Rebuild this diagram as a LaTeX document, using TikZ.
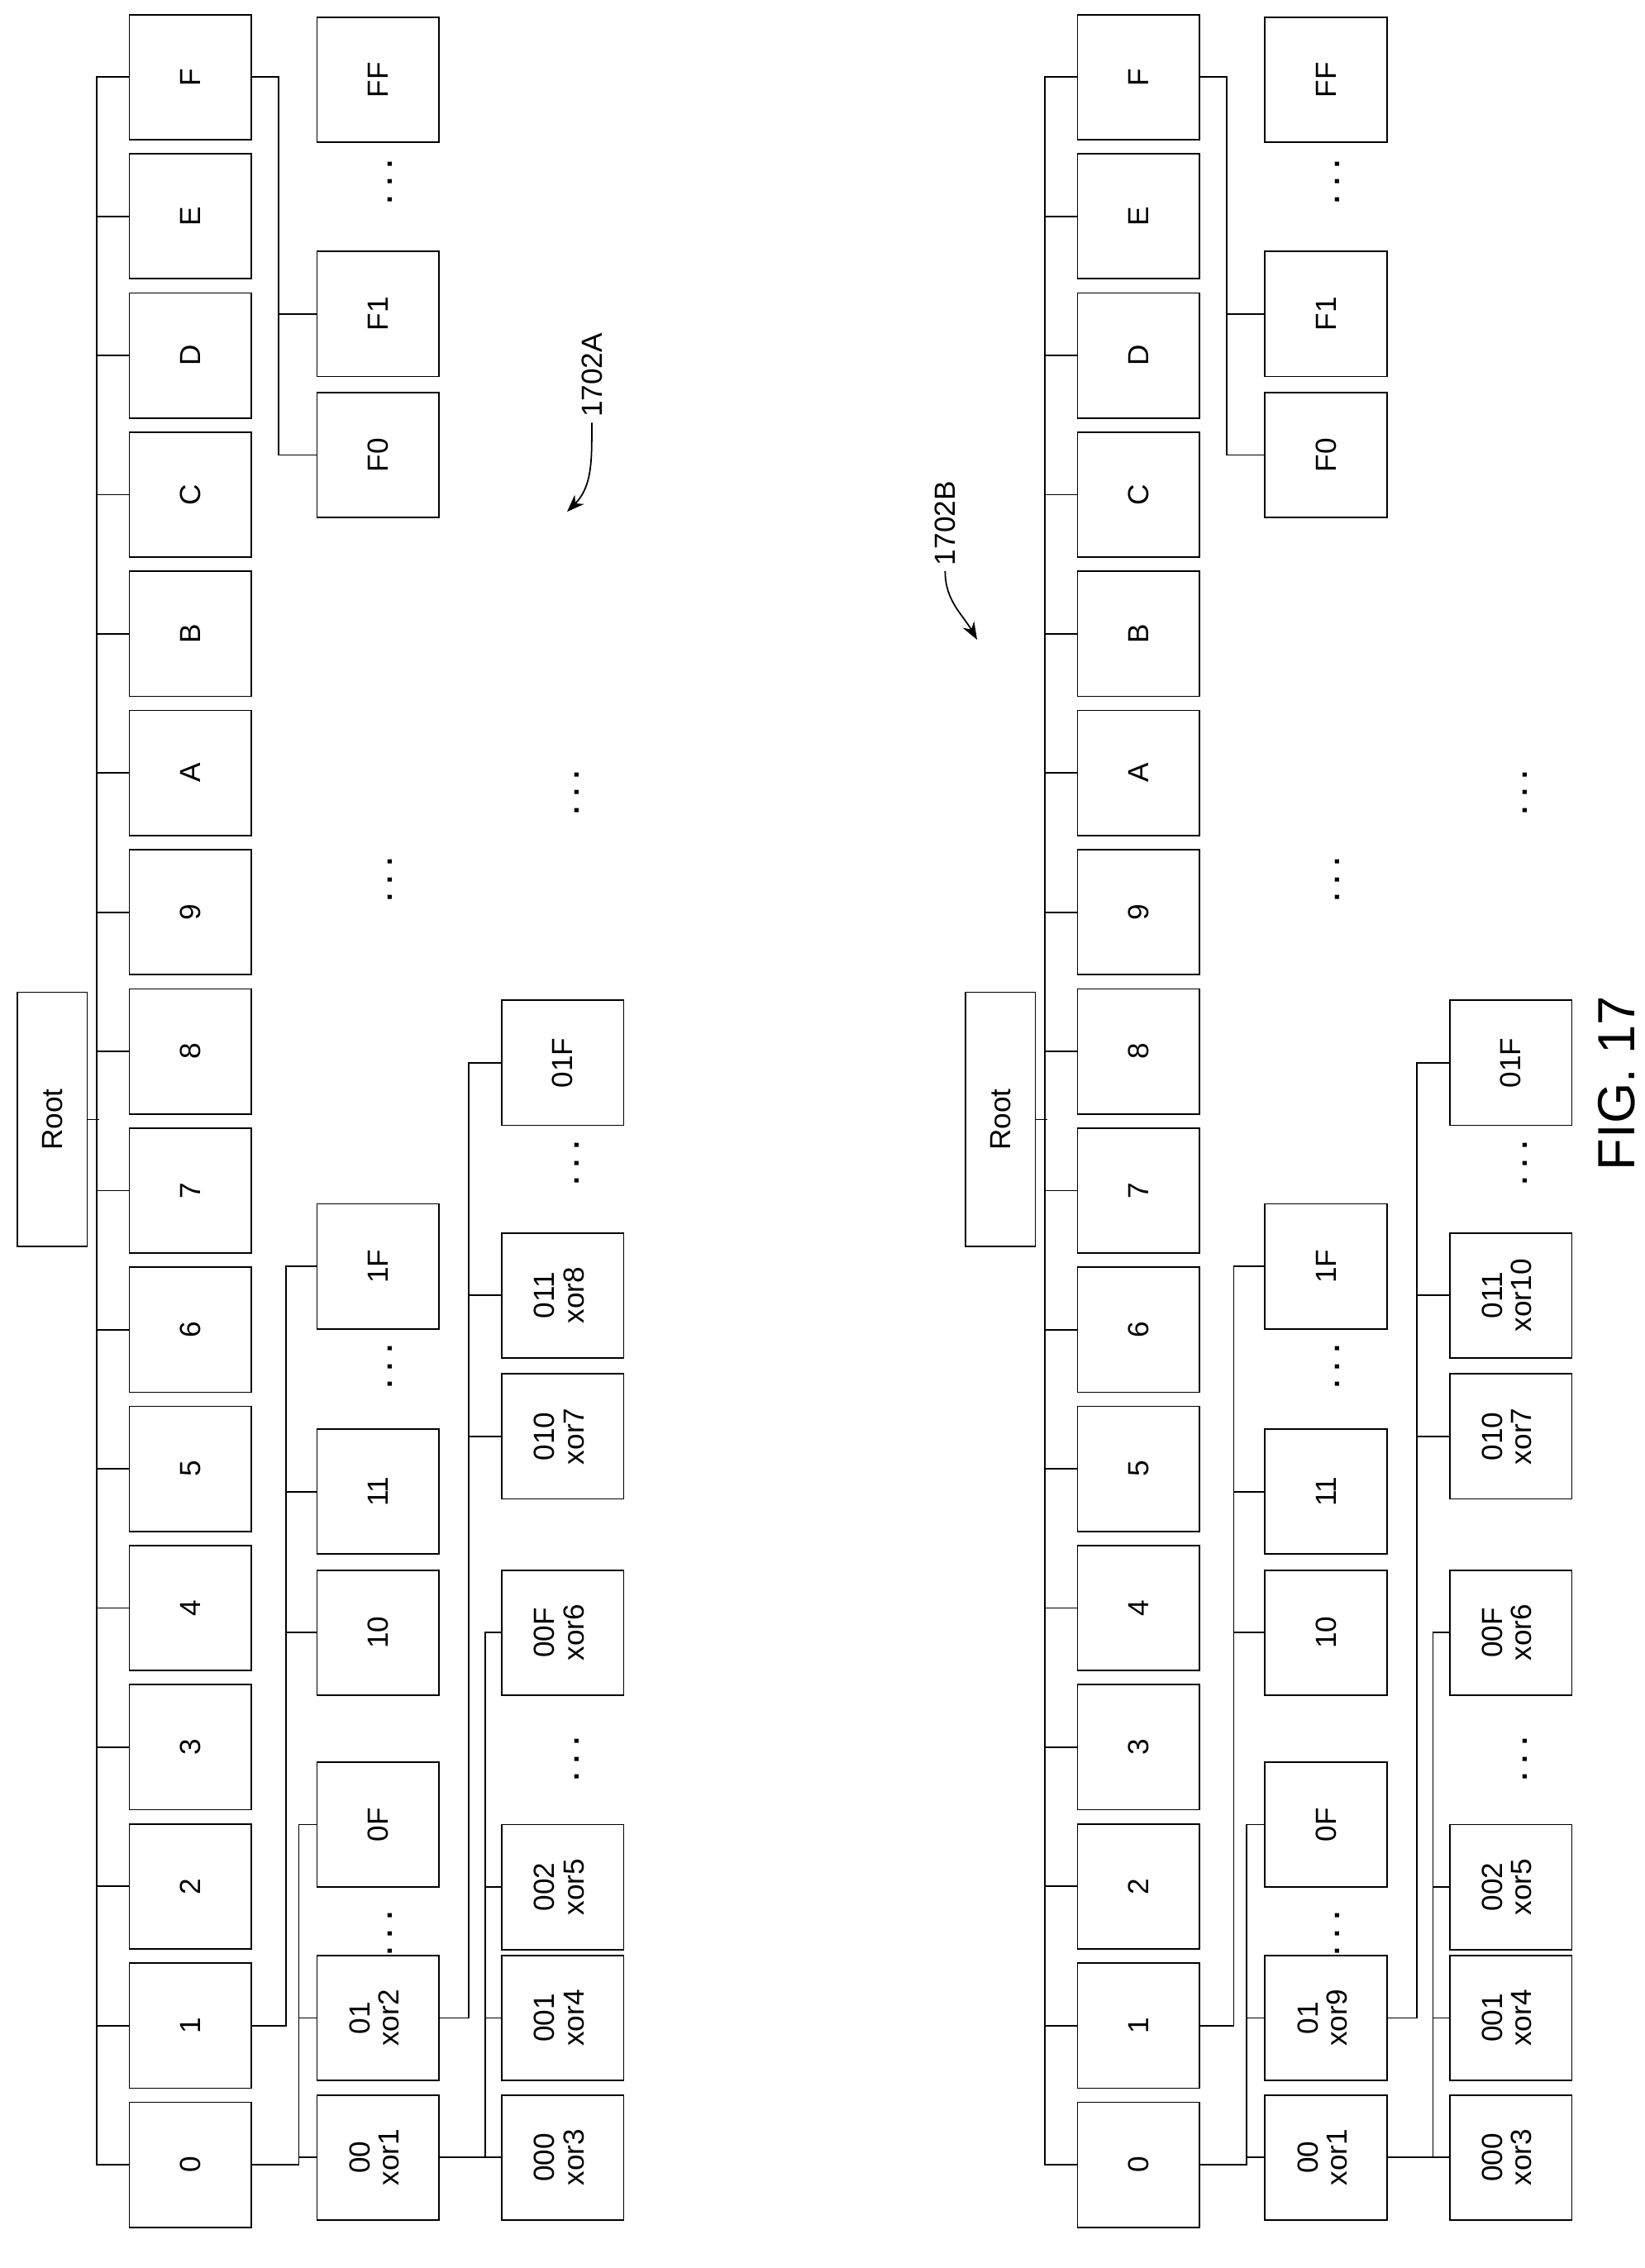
\documentclass[tikz,border=0pt]{standalone}
\usepackage{fontspec}
\setmainfont{Liberation Sans}
\usepackage{graphicx}
\usetikzlibrary{calc,positioning,arrows.meta}

\newcommand\rtxt[1]{\rotatebox{90}{#1}}
\newcommand\rtwo[2]{\rotatebox{90}{\begin{tabular}{@{}c@{}}#1\\[-2pt]#2\end{tabular}}}

% one tree; #1 prefix, #2 label of 01, #3 label of 011
\newcommand\drawtree[3]{
  \node[box, minimum width=48, minimum height=175] (#1root) at (36,770) {\rtxt{Root}};
  \foreach \k/\t [count=\i from 0] in {0/0,1/1,2/2,3/3,4/4,5/5,6/6,7/7,8/8,9/9,A/A,B/B,C/C,D/D,E/E,F/F}
    \node[box] (#1n\k) at (131,{1489-95.73*\i}) {\rtxt{\t}};
  % level two
  \node[box] (#1c00) at (260,1484) {\rtwo{00}{xor1}};
  \node[box] (#1c01) at (260,1388) {\rtwo{01}{#2}};
  \node[box] (#1c0F) at (260,1255) {\rtxt{0F}};
  \node[box] (#1c10) at (260,1123) {\rtxt{10}};
  \node[box] (#1c11) at (260,1026) {\rtxt{11}};
  \node[box] (#1c1F) at (260,871) {\rtxt{1F}};
  \node[box] (#1cF0) at (260,313) {\rtxt{F0}};
  \node[box] (#1cF1) at (260,216) {\rtxt{F1}};
  \node[box] (#1cFF) at (260,55) {\rtxt{FF}};
  % level three
  \node[box] (#1d000) at (387,1484) {\rtwo{000}{xor3}};
  \node[box] (#1d001) at (387,1388) {\rtwo{001}{xor4}};
  \node[box] (#1d002) at (387,1298) {\rtwo{002}{xor5}};
  \node[box] (#1d00F) at (387,1123) {\rtwo{00F}{xor6}};
  \node[box] (#1d010) at (387,988) {\rtwo{010}{xor7}};
  \node[box] (#1d011) at (387,891) {\rtwo{011}{#3}};
  \node[box] (#1d01F) at (387,731) {\rtxt{01F}};
  % dots
  \foreach \x/\y in {268/1330,268/940,268/605,268/125,397/1210,397/800,397/545}
    \node[dotsn] at (\x,\y) {\rtxt{.\,\,.\,\,.}};
  % connectors
  \draw (#1root.east) -- ++(8,0);
  \draw (#1n0.west) -- ++(-22,0) |- (#1nF.west);
  \foreach \k in {1,2,3,4,5,6,7,8,9,A,B,C,D,E}
    \draw (#1n\k.west) -- ++(-22,0);
  \draw (#1n0.east) -- ++(32,0) |- (#1c0F.west);
  \draw ($(#1n0.east)+(32,0)$) |- (#1c00.west);
  \draw ($(#1n0.east)+(32,0)$) |- (#1c01.west);
  \draw (#1n1.east) -- ++(23,0) |- (#1c1F.west);
  \draw ($(#1n1.east)+(23,0)$) |- (#1c10.west);
  \draw ($(#1n1.east)+(23,0)$) |- (#1c11.west);
  \draw (#1nF.east) -- ++(18,0) |- (#1cF0.west);
  \draw ($(#1nF.east)+(18,0)$) |- (#1cF1.west);
  \draw (#1c00.east) -- ++(31,0) |- (#1d00F.west);
  \draw ($(#1c00.east)+(31,0)$) |- (#1d000.west);
  \draw ($(#1c00.east)+(31,0)$) |- (#1d001.west);
  \draw ($(#1c00.east)+(31,0)$) |- (#1d002.west);
  \draw (#1c01.east) -- ++(20,0) |- (#1d01F.west);
  \draw ($(#1c01.east)+(20,0)$) |- (#1d010.west);
  \draw ($(#1c01.east)+(20,0)$) |- (#1d011.west);
}

\begin{document}
\begin{tikzpicture}[x=1pt, y=-1pt, line width=1pt,
  box/.style={draw, fill=white, minimum width=84, minimum height=86, inner sep=0,
    font=\fontsize{20}{22}\selectfont},
  dotsn/.style={font=\fontsize{20}{22}\selectfont\bfseries},
  lbl/.style={font=\fontsize{20}{22}\selectfont},
  arr/.style={-{Stealth[length=12pt,width=9pt]}}
]
  \useasboundingbox (0,0) rectangle (1131,1560);
  \drawtree{a}{xor2}{xor8}
  \begin{scope}[xshift=652pt]
    \drawtree{b}{xor9}{xor10}
  \end{scope}

  \node[lbl] (labA) at (407,258) {\rtxt{1702A}};
  \draw[arr] (labA.south) to[out=-90,in=45] (390,352);
  \node[lbl] (labB) at (650,360) {\rtxt{1702B}};
  \draw[arr] (labB.south) to[out=-90,in=120] (672,440);

  \node[font=\fontsize{36}{40}\selectfont] (fig) at (1112,745) {\rtxt{FIG. 17}};
\end{tikzpicture}
\end{document}
